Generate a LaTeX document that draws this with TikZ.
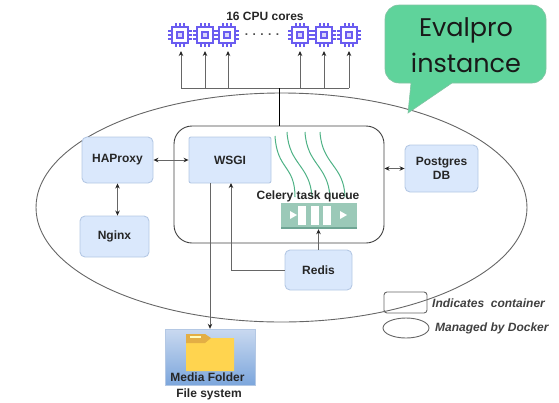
\documentclass[tikz,border=0pt]{standalone}
\usepackage{fontspec}
\setmainfont{Liberation Sans}
\newfontfamily\bubblefont{Poppins}
\usetikzlibrary{arrows.meta,calc,shapes.geometric}
\definecolor{boxfill}{HTML}{DAE8FC}
\definecolor{boxline}{HTML}{B4C8E4}
\definecolor{chipc}{HTML}{6A5CF0}
\definecolor{wavec}{HTML}{4FB286}
\definecolor{queuec}{HTML}{9BC9B8}
\definecolor{queued}{HTML}{6FA594}
\definecolor{bubblec}{HTML}{5FD39B}
\definecolor{linec}{HTML}{666666}
\definecolor{mediatop}{HTML}{C9D9F0}
\definecolor{mediabot}{HTML}{7CA6DC}
\definecolor{folderc}{HTML}{FFD44F}
\definecolor{tabc}{HTML}{E3AE45}
\tikzset{
  lbl/.style={font=\fontsize{12}{14}\selectfont\bfseries,text=black!85,align=center,inner sep=0pt},
  svc/.style={draw=boxline,fill=boxfill,line width=.9pt,rounded corners=2pt,minimum width=#1,inner sep=0pt,font=\fontsize{12}{14}\selectfont\bfseries,text=black!85,align=center},
  conn/.style={draw=linec,line width=1pt},
  two/.style={conn,{Stealth[length=5pt,width=4.5pt,color=black!85]}-{Stealth[length=5pt,width=4.5pt,color=black!85]}},
  one/.style={conn,-{Stealth[length=5pt,width=4.5pt,color=black!85]}},
  wave/.style={draw=wavec,line width=1pt},
  legendt/.style={font=\fontsize{12}{14}\selectfont\bfseries\itshape,text=black!75,anchor=west,inner sep=0pt},
  chipshape/.pic={
    \foreach \d in {-4,0,4}{
      \draw[chipc,line width=1.7pt] (-12,\d) -- (12,\d);
      \draw[chipc,line width=1.7pt] (\d,-12) -- (\d,12);
    }
    \draw[chipc,line width=2.4pt,fill=white] (-8,-8) rectangle (8,8);
    \draw[chipc,line width=1.8pt,fill=chipc!25] (-3,-3) rectangle (3,3);
  }
}
\begin{document}
\begin{tikzpicture}[x=1pt,y=-1pt]
\useasboundingbox (0,0) rectangle (559,402);
% outer ellipse
\node[ellipse,draw=linec,line width=.9pt,minimum width=491pt,minimum height=229pt,inner sep=0pt] (docker) at (281.5,207.5) {};
% bubble
\draw[draw=bubblec!80!black!70,fill=bubblec,line width=.6pt]
  (399,5) -- (532,5) arc[start angle=-90,end angle=0,radius=14pt,y radius=-14pt] -- (546,69)
  arc[start angle=0,end angle=90,radius=14pt,y radius=-14pt] -- (452,83) -- (408,113) -- (411,83) -- (399,83)
  arc[start angle=90,end angle=180,radius=14pt,y radius=-14pt] -- (385,19)
  arc[start angle=180,end angle=270,radius=14pt,y radius=-14pt] -- cycle;
\node[font=\bubblefont\fontsize{25.5}{36}\selectfont,text=black!90,align=center,inner sep=0pt] (bubble) at (466,45) {Evalpro\\instance};
% chips
\node[lbl] (cputitle) at (265,16) {16 CPU cores};
\foreach \n/\x in {c1/180,c2/205,c3/227,c4/300,c5/324,c6/349}{
  \pic at (\x,35) {chipshape};
}
\node[font=\fontsize{12}{12}\selectfont\bfseries,text=black!70,inner sep=0pt] (dots) at (262,35) {. . . . .};
% bus
\coordinate (busl) at (181,88);
\coordinate (busr) at (349,88);
\coordinate (busm) at (279,88);
\draw[conn] (busl) -- (busr);
\foreach \n/\x in {c1/181,c2/205,c3/228,c4/300,c5/324,c6/349}{
  \coordinate (b\n) at (\x,88);
  \coordinate (t\n) at (\x,51);
  \draw[one] (b\n) -- (t\n);
}
% container
\node[draw=black!75,line width=.9pt,rounded corners=18pt,minimum width=210pt,minimum height=117pt,inner sep=0pt] (container) at (279,184.5) {};
\draw[draw=black,line width=1pt] (busm) -- (container.north);
% nodes
\node[svc=82pt,minimum height=46pt] (wsgi) at (230,160) {WSGI};
\node[svc=71pt,minimum height=46pt,rounded corners=5pt] (haproxy) at (117.5,160) {HAProxy};
\node[svc=69pt,minimum height=41pt,rounded corners=5pt] (nginx) at (114.5,236.5) {Nginx};
\node[svc=73pt,minimum height=47pt,rounded corners=5pt] (postgres) at (441.5,168.5) {Postgres\\DB};
\node[svc=67pt,minimum height=40pt,rounded corners=5pt] (redis) at (318.5,270) {Redis};
% queue
\node[draw=none,fill=queuec,minimum width=76pt,minimum height=26pt,inner sep=0pt] (queue) at (319,216) {};
\fill[queued] (queue.south west) rectangle ($(queue.south east)+(0,-2)$);
\foreach \x in {302,315,327}{
  \fill[white] (\x-4,206) rectangle (\x+4,224.5);
}
\fill[white] (290,211) -- (297,215) -- (290,219) -- cycle;
\fill[white] (340,211) -- (347,215) -- (340,219) -- cycle;
% waves
\draw[wave] (275,136) .. controls (277,170) and (295,165) .. (295,197);
\draw[wave] (287,132) .. controls (289,165) and (310,165) .. (312,197);
\draw[wave] (305,132) .. controls (307,165) and (328,165) .. (330,197);
\draw[wave] (320,132) .. controls (322,165) and (344,165) .. (345,197);
\node[lbl] (celery) at (308,196.5) {Celery task queue};
% media
\node[draw=boxline,top color=mediatop,bottom color=mediabot,minimum width=90pt,minimum height=56pt,inner sep=0pt] (media) at (210,357) {};
\fill[folderc] (186,334) -- (205,334) -- (210,338) -- (234,338) -- (234,371) -- (186,371) -- cycle;
\fill[tabc] (186,334) -- (205,334) -- (211,338) -- (205,343) -- (186,343) -- cycle;
\fill[white!75!yellow] (190,336) rectangle (201,338);
\node[lbl] (medial) at (207.5,377) {Media Folder};
\node[lbl] (fs) at (209,394) {File system};
% connectors
\draw[two] (haproxy.east) -- (wsgi.west);
\draw[two] (haproxy.south) -- (haproxy.south |- nginx.north);
\draw[two] (container.east |- postgres.west) -- (postgres.west);
\coordinate (wsgidown) at (210,183);
\coordinate (wsgiup) at (231,183);
\draw[one] (wsgidown) -- (wsgidown |- media.north);
\draw[one] (redis.west) -| (wsgiup);
\draw[one] (redis.north) -- (redis.north |- queue.south);
% legend
\node[draw=linec,line width=.9pt,rounded corners=3pt,minimum width=43pt,minimum height=21pt,inner sep=0pt] (legrect) at (405.5,302.5) {};
\node[ellipse,draw=linec,line width=.9pt,minimum width=46pt,minimum height=20pt,inner sep=0pt] (legell) at (406,328) {};
\node[legendt] (legt1) at (432,303) {Indicates\ \ container};
\node[legendt] (legt2) at (435,328) {Managed by Docker};
\end{tikzpicture}
\end{document}
